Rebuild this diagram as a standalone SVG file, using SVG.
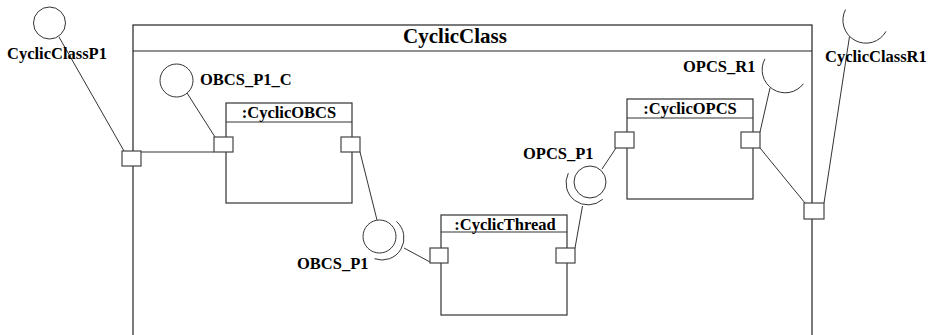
<svg xmlns="http://www.w3.org/2000/svg" width="928" height="335" viewBox="0 0 928 335">
<style>
.box{fill:none;stroke:#222;stroke-width:1.2}
.nbox{fill:#fff;stroke:#333;stroke-width:1.2}
.port{fill:#fff;stroke:#444;stroke-width:1.2}
.ln{fill:none;stroke:#333;stroke-width:1}
.ttl{font-family:"Liberation Serif","DejaVu Serif",serif;font-weight:bold;font-size:21px;fill:#000}
.nt{font-family:"Liberation Serif","DejaVu Serif",serif;font-weight:bold;font-size:16.5px;fill:#000}
.lbl{font-family:"Liberation Serif","DejaVu Serif",serif;font-weight:bold;font-size:16.5px;fill:#000}
</style>
<rect width="928" height="335" fill="#fff"/>
<g id="CyclicClass">
<rect class="box" x="133" y="25" width="679" height="400"/>
<line class="box" x1="133" y1="51" x2="812" y2="51"/>
<text class="ttl" x="455" y="43" text-anchor="middle">CyclicClass</text>
</g>
<g id="CyclicOBCS">
<rect class="nbox" x="226" y="103" width="126" height="100"/>
<line class="ln" x1="226" y1="122" x2="352" y2="122"/>
<text class="nt" x="289" y="118" text-anchor="middle">:CyclicOBCS</text>
</g>
<g id="CyclicThread">
<rect class="nbox" x="441" y="215" width="126" height="100"/>
<line class="ln" x1="441" y1="232" x2="567" y2="232"/>
<text class="nt" x="505" y="229.5" text-anchor="middle">:CyclicThread</text>
</g>
<g id="CyclicOPCS">
<rect class="nbox" x="627" y="99" width="126" height="100"/>
<line class="ln" x1="627" y1="118" x2="753" y2="118"/>
<text class="nt" x="690" y="114" text-anchor="middle">:CyclicOPCS</text>
</g>
<g id="connectors">
<line class="ln" x1="59" y1="37" x2="124" y2="151"/>
<line class="ln" x1="141" y1="152" x2="214" y2="152"/>
<line class="ln" x1="187" y1="93" x2="215" y2="137"/>
<line class="ln" x1="360" y1="152" x2="377" y2="220"/>
<line class="ln" x1="404" y1="248" x2="430" y2="262"/>
<line class="ln" x1="575" y1="248" x2="582.5" y2="206"/>
<line class="ln" x1="602" y1="169" x2="616" y2="148"/>
<line class="ln" x1="770" y1="88" x2="760" y2="132"/>
<line class="ln" x1="760" y1="148" x2="805" y2="203"/>
<line class="ln" x1="849.5" y1="36.5" x2="824" y2="203"/>
</g>
<g id="ports">
<rect class="port" x="122" y="151" width="19" height="15"/>
<rect class="port" x="214" y="137" width="19" height="15"/>
<rect class="port" x="341" y="137" width="19" height="15"/>
<rect class="port" x="430" y="248" width="18" height="15"/>
<rect class="port" x="556" y="248" width="19" height="15"/>
<rect class="port" x="615" y="132" width="19" height="16"/>
<rect class="port" x="741" y="132" width="19" height="16"/>
<rect class="port" x="804" y="203" width="20" height="16"/>
</g>
<g id="CyclicClassP1">
<circle class="ln" cx="49.5" cy="23" r="16"/>
<text class="lbl" x="7" y="59">CyclicClassP1</text>
</g>
<g id="OBCS_P1_C">
<circle class="ln" cx="176.5" cy="80.5" r="16.5"/>
<text class="lbl" x="200" y="85">OBCS_P1_C</text>
</g>
<g id="OBCS_P1">
<circle class="ln" cx="379.5" cy="236.5" r="16.5"/>
<path class="ln" d="M396.4,221.4 A22,22 0 0 1 374.5,258.7"/>
<text class="lbl" x="297" y="269">OBCS_P1</text>
</g>
<g id="OPCS_P1">
<circle class="ln" cx="590" cy="182" r="16"/>
<path class="ln" d="M568.3,173.2 A22,22 0 0 0 602.7,199.3"/>
<text class="lbl" x="523" y="159">OPCS_P1</text>
</g>
<g id="OPCS_R1">
<path class="ln" d="M764.9,58.9 A23,23 0 0 0 803.4,83.8"/>
<text class="lbl" x="683" y="72">OPCS_R1</text>
</g>
<g id="CyclicClassR1">
<path class="ln" d="M845.5,9.6 A23,23 0 0 0 886,31.4"/>
<text class="lbl" x="825" y="62">CyclicClassR1</text>
</g>
</svg>
